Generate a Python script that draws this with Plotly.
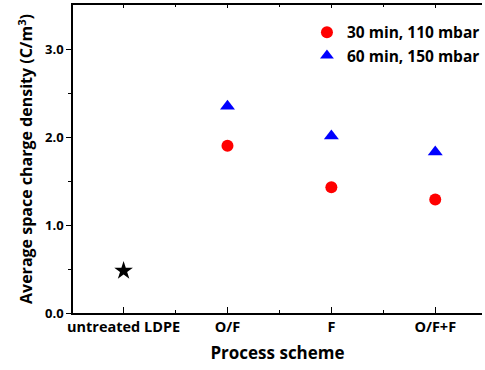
import plotly.graph_objects as go

categories = ["untreated LDPE", "O/F", "F", "O/F+F"]
cat_pos = [1, 2, 3, 4]
untreated_val = [0.48]
series1_name = "30 min, 110 mbar"
series1_vals = [1.90, 1.43, 1.29]
series2_name = "60 min, 150 mbar"
series2_vals = [2.35, 2.01, 1.83]
y_ticks = [0.0, 1.0, 2.0, 3.0]

FONT = "Open Sans"
fig = go.Figure()
fig.add_trace(go.Scatter(x=cat_pos[:1], y=untreated_val, mode="markers",
                         marker=dict(symbol="star", size=14, color="black"),
                         showlegend=False))
fig.add_trace(go.Scatter(x=cat_pos[1:], y=series1_vals, mode="markers", name=series1_name,
                         marker=dict(symbol="circle", size=12, color="#ff0000")))
fig.add_trace(go.Scatter(x=cat_pos[1:], y=series2_vals, mode="markers", name=series2_name,
                         marker=dict(symbol="triangle-up", size=13, color="#0000ff")))
# invisible trace to host the top mirror axis
fig.add_trace(go.Scatter(x=[cat_pos[0]], y=[-1], xaxis="x2", showlegend=False,
                         hoverinfo="skip", mode="markers", marker=dict(opacity=0)))

xr = [0.513, 4.45]
fig.update_layout(
    width=485, height=370,
    margin=dict(l=73, r=0, t=5, b=57),
    paper_bgcolor="white", plot_bgcolor="white",
    font=dict(family=FONT, color="black"),
    showlegend=True,
    legend=dict(x=0.572, y=0.965, xanchor="left", yanchor="top",
                font=dict(family=FONT, size=15.5, color="black", weight="bold"),
                bgcolor="rgba(0,0,0,0)", itemsizing="constant", tracegroupgap=0),
    xaxis=dict(range=xr, tickvals=cat_pos, ticktext=categories,
               showline=True, linecolor="black", linewidth=1.5,
               ticks="inside", ticklen=6, tickwidth=1, tickcolor="black",
               minor=dict(tickvals=[1.5, 2.5, 3.5], ticks="inside", ticklen=3, tickcolor="black"),
               showgrid=False, zeroline=False,
               tickfont=dict(family=FONT, size=14.5, color="black", weight="bold"),
               title=dict(text="Process scheme", standoff=12,
                          font=dict(family=FONT, size=17, color="black", weight="bold"))),
    xaxis2=dict(range=xr, overlaying="x", side="top", tickvals=cat_pos,
                showticklabels=False, showline=True, linecolor="black", linewidth=1.5,
                ticks="inside", ticklen=3, tickcolor="black",
                minor=dict(tickvals=[1.5, 2.5, 3.5], ticks="inside", ticklen=2, tickcolor="black"),
                showgrid=False, zeroline=False),
    yaxis=dict(range=[0, 3.5], tickvals=y_ticks, tickformat=".1f",
               showline=True, linecolor="black", linewidth=1.5,
               ticks="outside", ticklen=5, tickwidth=1, tickcolor="black",
               minor=dict(tickvals=[0.5, 1.5, 2.5], ticks="outside", ticklen=3, tickcolor="black"),
               showgrid=False, zeroline=False,
               tickfont=dict(family=FONT, size=13, color="black", weight="bold"),
               title=dict(text="Average space charge density (C/m<sup>3</sup>)", standoff=8,
                          font=dict(family=FONT, size=16, color="black", weight="bold"))),
)
fig.write_html("out.html")
